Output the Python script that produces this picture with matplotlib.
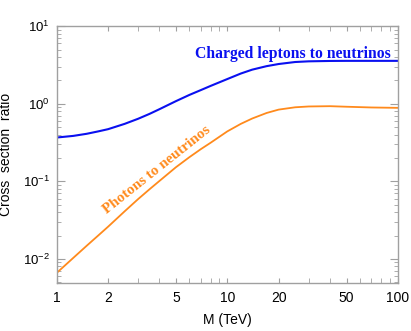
import matplotlib
matplotlib.use("Agg")
import matplotlib.pyplot as plt
from matplotlib.ticker import LogLocator, FixedLocator, FixedFormatter, NullFormatter

# mass grid (TeV) and ratios
mass = [1, 1.25, 1.5, 1.75, 2, 2.5, 3, 3.5, 4, 5, 6, 7, 8, 10, 12, 14, 17, 20,
        25, 30, 40, 50, 70, 100]
leptons = [0.367, 0.385, 0.41, 0.44, 0.47, 0.55, 0.64, 0.74, 0.85, 1.08, 1.30,
           1.50, 1.70, 2.08, 2.45, 2.75, 3.05, 3.25, 3.45, 3.52, 3.56, 3.57,
           3.57, 3.57]
photons = [0.0066, 0.0103, 0.0148, 0.020, 0.026, 0.041, 0.059, 0.079, 0.101,
           0.152, 0.205, 0.26, 0.315, 0.44, 0.55, 0.645, 0.76, 0.84, 0.9,
           0.922, 0.93, 0.915, 0.895, 0.885]

BLUE = "#0a10f0"
ORANGE = "#ff8a1c"
GREY = "#a0a0a0"

plt.rcParams["font.family"] = ["Liberation Sans", "DejaVu Sans"]
plt.rcParams["mathtext.fontset"] = "custom"
plt.rcParams["mathtext.rm"] = "Liberation Sans"
plt.rcParams["mathtext.it"] = "Liberation Sans"
plt.rcParams["mathtext.default"] = "rm"

fig = plt.figure(figsize=(4.11, 3.31), dpi=100)
ax = fig.add_axes([0.138, 0.146, 0.830, 0.775])

ax.plot(mass, leptons, color=BLUE, lw=1.5)
ax.plot(mass, photons, color=ORANGE, lw=1.3)

ax.set_xscale("log")
ax.set_yscale("log")
ax.set_xlim(1, 100)
ax.set_ylim(0.00494, 10)

xt = [1, 2, 5, 10, 20, 50, 100]
ax.xaxis.set_major_locator(FixedLocator(xt))
ax.xaxis.set_major_formatter(FixedFormatter([str(v) for v in xt]))
ax.xaxis.set_minor_locator(LogLocator(base=10, subs=(3, 4, 6, 7, 8, 9)))
ax.xaxis.set_minor_formatter(NullFormatter())

ax.yaxis.set_major_locator(FixedLocator([1e-2, 1e-1, 1, 10]))
ax.yaxis.set_major_formatter(FixedFormatter([r"$10^{-2}$", r"$10^{-1}$", r"$10^{0}$", r"$10^{1}$"]))
ax.yaxis.set_minor_locator(LogLocator(base=10, subs=range(2, 10)))
ax.yaxis.set_minor_formatter(NullFormatter())

for s in ax.spines.values():
    s.set_color(GREY)
    s.set_linewidth(1.0)
ax.tick_params(which="both", direction="in", top=True, right=True, color=GREY,
               labelsize=10, pad=6)
ax.tick_params(axis="x", which="both", length=3.5)
ax.tick_params(axis="y", which="major", length=6, labelsize=9.5, pad=5)
ax.tick_params(axis="y", which="minor", length=3)

ax.set_xlabel("M (TeV)", fontsize=10, labelpad=6)
ax.set_ylabel("Cross  section  ratio", fontsize=10)
ax.yaxis.set_label_coords(-0.129, 0.5)

ax.text(0.98, 0.893, "Charged leptons to neutrinos", transform=ax.transAxes,
        ha="right", va="center", color=BLUE, fontsize=11.3, fontweight="bold",
        family="Liberation Serif")
ax.text(0.294, 0.44, "Photons to neutrinos", transform=ax.transAxes,
        ha="center", va="center", rotation=38.5, rotation_mode="anchor",
        color=ORANGE, fontsize=10.8, fontweight="bold", family="Liberation Serif")

fig.savefig("out.png", dpi=100)
